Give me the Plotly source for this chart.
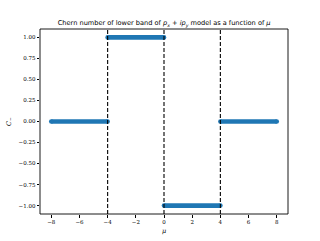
import plotly.graph_objects as go

# Step segments of the Chern number C_- versus mu
seg_start = [-8, -4, 0, 4]
seg_end = [-4, 0, 4, 8]
chern = [0, 1, -1, 0]
boundaries = [-4, 0, 4]

x_ticks = [-8, -6, -4, -2, 0, 2, 4, 6, 8]
x_tick_text = ["\u22128", "\u22126", "\u22124", "\u22122", "0", "2", "4", "6", "8"]
y_ticks = [-1.0, -0.75, -0.5, -0.25, 0.0, 0.25, 0.5, 0.75, 1.0]
y_tick_text = ["\u22121.00", "\u22120.75", "\u22120.50", "\u22120.25", "0.00", "0.25", "0.50", "0.75", "1.00"]

blue = "#1f77b4"
fig = go.Figure()
for a, b, c in zip(seg_start, seg_end, chern):
    fig.add_trace(go.Scatter(
        x=[a, b], y=[c, c], mode="lines+markers",
        line=dict(color=blue, width=4.6),
        marker=dict(color=blue, size=4.6, line=dict(width=0)),
        showlegend=False, hoverinfo="skip"))

for xv in boundaries:
    fig.add_vline(x=xv, line=dict(color="black", width=1.1, dash="4px,2px"))

# axes frame
fig.add_shape(type="rect", xref="paper", yref="paper", x0=0, y0=0, x1=1, y1=1,
              line=dict(color="black", width=0.9), layer="above")

serif = "DejaVu Serif"
axis_common = dict(
    showgrid=False, zeroline=False, showline=False,
    ticks="outside", ticklen=2.5, tickwidth=0.8,
    tickcolor="black", tickfont=dict(family=serif, size=5.5, color="black"),
    automargin=False)
fig.update_layout(
    width=320, height=241,
    margin=dict(l=40, r=32, t=29, b=27),
    paper_bgcolor="white", plot_bgcolor="white",
    title=dict(
        text="Chern number of lower band of <i>p<sub>x</sub></i> + <i>ip<sub>y</sub></i> model as a function of <i>\u03bc</i>",
        x=0.513, xanchor="center", y=0.905, yanchor="middle",
        font=dict(family="DejaVu Sans", size=6.6, color="black")),
    xaxis=dict(
        range=[-8.8, 8.8], tickvals=x_ticks, ticktext=x_tick_text,
        title=dict(text="<i>\u03bc</i>", font=dict(family=serif, size=6.5, color="black"), standoff=4),
        **axis_common),
    yaxis=dict(
        range=[-1.1, 1.1], tickvals=y_ticks, ticktext=y_tick_text,
        title=dict(text="<i>C<sub>\u2212</sub></i>", font=dict(family=serif, size=6.5, color="black"), standoff=6),
        **axis_common),
)

fig.write_html("out.html", config={"displayModeBar": False},
               post_script="document.body.style.margin='0';")
